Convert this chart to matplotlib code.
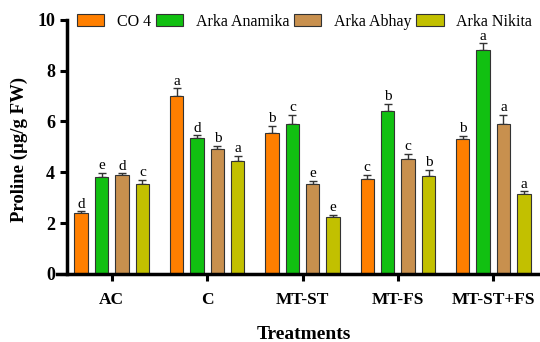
import numpy as np
import matplotlib
matplotlib.use("Agg")
import matplotlib.pyplot as plt

plt.rcParams["font.family"] = ["Liberation Serif", "DejaVu Serif"]

treatments = ["AC", "C", "MT-ST", "MT-FS", "MT-ST+FS"]
varieties = ["CO 4", "Arka Anamika", "Arka Abhay", "Arka Nikita"]
colors = ["#FF7F00", "#11C011", "#C8904E", "#C2C000"]

means = {
    "CO 4": [2.38, 7.0, 5.55, 3.72, 5.3],
    "Arka Anamika": [3.8, 5.35, 5.9, 6.42, 8.82],
    "Arka Abhay": [3.88, 4.9, 3.55, 4.52, 5.9],
    "Arka Nikita": [3.55, 4.45, 2.25, 3.85, 3.15],
}
errors = {
    "CO 4": [0.08, 0.3, 0.28, 0.17, 0.13],
    "Arka Anamika": [0.17, 0.1, 0.35, 0.28, 0.25],
    "Arka Abhay": [0.08, 0.14, 0.1, 0.2, 0.35],
    "Arka Nikita": [0.14, 0.2, 0.08, 0.25, 0.1],
}
letters = {
    "CO 4": ["d", "a", "b", "c", "b"],
    "Arka Anamika": ["e", "d", "c", "b", "a"],
    "Arka Abhay": ["d", "b", "e", "c", "a"],
    "Arka Nikita": ["c", "a", "e", "b", "a"],
}

fig = plt.figure(figsize=(5.4, 3.42), dpi=100)
ax = fig.add_axes([0.124, 0.199, 0.876, 0.743])

x = np.arange(len(treatments))
step = 0.214
width = 0.14
for i, v in enumerate(varieties):
    pos = x + (i - 1.5) * step
    ax.bar(pos, means[v], width, color=colors[i], edgecolor="#333333",
           linewidth=0.8, label=v, zorder=2)
    ax.errorbar(pos, means[v], yerr=[np.zeros(len(x)), errors[v]], fmt="none",
                ecolor="#333333", elinewidth=1.0, capsize=3, capthick=1.0, zorder=1)
    for px, m, e, t in zip(pos, means[v], errors[v], letters[v]):
        ax.text(px, m + e + 0.03, t, ha="center", va="bottom", fontsize=11)

ax.set_xlim(-0.47, 4.49)
ax.set_ylim(0, 10)
ax.set_yticks([0, 2, 4, 6, 8, 10])
ax.set_xticks(x)
ax.set_xticklabels(treatments, fontsize=12.5, fontweight="bold")
for lab in ax.get_yticklabels():
    lab.set_fontsize(13)
    lab.set_fontweight("bold")
ax.tick_params(width=2.2, length=5)
ax.tick_params(axis="x", pad=8)
for s in ["top", "right"]:
    ax.spines[s].set_visible(False)
for s in ["left", "bottom"]:
    ax.spines[s].set_linewidth(2.5)
ax.spines["bottom"].set_bounds(-0.57, 4.49)

ax.set_ylabel("Proline (µg/g FW)", fontsize=13.5, fontweight="bold")
ax.yaxis.set_label_coords(-0.082, 0.49)
ax.set_xlabel("Treatments", fontsize=14, fontweight="bold", va="center")
ax.xaxis.set_label_coords(0.5, -0.24)

ax.legend(loc="upper left", bbox_to_anchor=(0.008, 1.05), ncol=4, frameon=False,
          fontsize=11.5, handlelength=1.7, handleheight=0.7, columnspacing=0.3,
          handletextpad=0.8, borderaxespad=0)

fig.savefig("out.png", dpi=100)
